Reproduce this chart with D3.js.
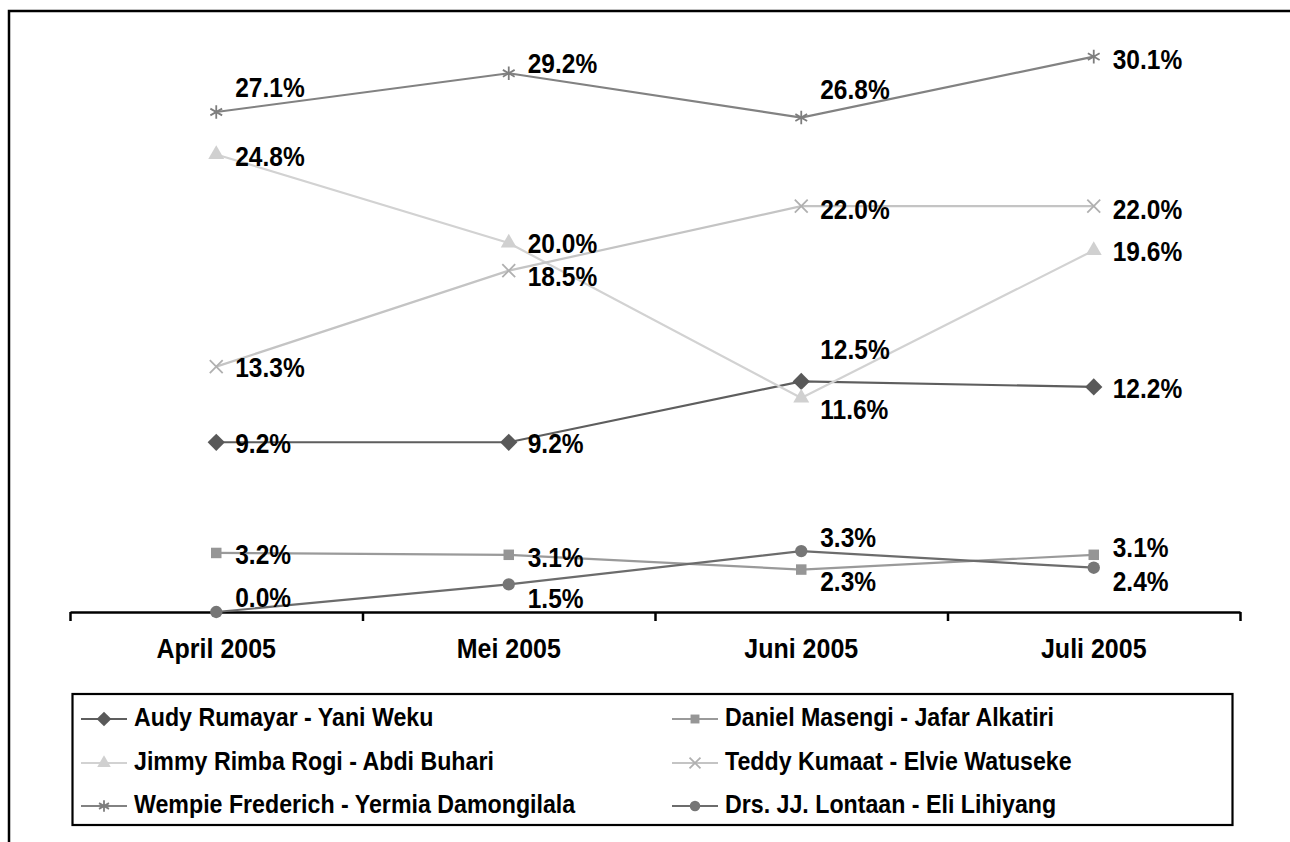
<!DOCTYPE html>
<html>
<head>
<meta charset="utf-8">
<script src="https://cdn.jsdelivr.net/npm/d3@7"></script>
<style>
  html, body { margin: 0; padding: 0; background: #fff; }
  svg { display: block; font-family: "Liberation Sans", Arial, sans-serif; }
</style>
</head>
<body>
<svg id="chart" width="1290" height="842"></svg>
<script>
// ---- data ----
const categories = ["April 2005", "Mei 2005", "Juni 2005", "Juli 2005"];
const seriesNames = [
  "Audy Rumayar - Yani Weku",
  "Daniel Masengi - Jafar Alkatiri",
  "Jimmy Rimba Rogi - Abdi Buhari",
  "Teddy Kumaat - Elvie Watuseke",
  "Wempie Frederich - Yermia Damongilala",
  "Drs. JJ. Lontaan - Eli Lihiyang"
];
const audy   = [9.2, 9.2, 12.5, 12.2];
const daniel = [3.2, 3.1, 2.3, 3.1];
const jimmy  = [24.8, 20.0, 11.6, 19.6];
const teddy  = [13.3, 18.5, 22.0, 22.0];
const wempie = [27.1, 29.2, 26.8, 30.1];
const lontaan = [0.0, 1.5, 3.3, 2.4];
const seriesValues = [audy, daniel, jimmy, teddy, wempie, lontaan];

// ---- style / layout ----
const lineColors   = ["#5e5e5e", "#9a9a9a", "#d2d2d2", "#c4c4c4", "#828282", "#6c6c6c"];
const markerColors = ["#595959", "#969696", "#d0d0d0", "#b0b0b0", "#7e7e7e", "#767676"];
const markerTypes  = ["diamond", "square", "triangle", "x", "asterisk", "circle"];
// vertical offsets of value labels (text centre relative to the point), px
const labelDy = [
  [1, 1, -32, 1],
  [1, 2, 12, -8],
  [2, 0, 11, 1],
  [1, 6, 3, 3],
  [-25, -10, -28, 3],
  [-15, 14, -14, 14]
];
const textStretch = 1.1; // glyphs in the reference are slightly taller than wide

const svg = d3.select("#chart");

// outer frame (open to the right/bottom, as cropped)
svg.append("path")
  .attr("d", "M9,842 L9,11 L1290,11")
  .attr("fill", "none").attr("stroke", "#000").attr("stroke-width", 2.5);

const x0 = 70, x1 = 1240, yBase = 612;
const x = d3.scaleBand().domain(categories).range([x0, x1]).paddingInner(0).paddingOuter(0);
const cx = c => x(c) + x.bandwidth() / 2;
const y = d3.scaleLinear().domain([0, 30]).range([yBase, yBase - 30 * 18.45]);

// axis ticks at category boundaries
const xb = d3.scaleLinear().domain([0, categories.length]).range([x0, x1]);
svg.append("g")
  .attr("transform", `translate(0,${yBase})`)
  .call(d3.axisBottom(xb).ticks(categories.length).tickFormat("").tickSizeInner(9).tickSizeOuter(0))
  .call(g => g.selectAll("path.domain").attr("stroke", "#000").attr("stroke-width", 2.5))
  .call(g => g.selectAll(".tick line").attr("stroke", "#000").attr("stroke-width", 2.5));

// category labels
svg.append("g")
  .attr("transform", `translate(0,${yBase})`)
  .call(d3.axisBottom(x).tickSize(0).tickPadding(0))
  .call(g => g.select("path.domain").remove())
  .call(g => g.selectAll("text")
    .attr("y", 0).attr("dy", "0")
    .attr("transform", `translate(0,46) scale(1,${textStretch})`)
    .attr("fill", "#000")
    .style("font-family", '"Liberation Sans", Arial, sans-serif')
    .style("font-size", "25px").style("font-weight", "bold"));

function markerPath(type) {
  switch (type) {
    case "diamond": return d3.symbol(d3.symbolDiamond2, 190)();
    case "square": return d3.symbol(d3.symbolSquare, 110)();
    case "triangle": return d3.symbol(d3.symbolTriangle, 110)();
    case "x": return d3.symbol(d3.symbolX, 110)();
    case "asterisk": return d3.symbol(d3.symbolAsterisk, 130)();
    case "circle": return d3.symbol(d3.symbolCircle, 120)();
  }
}
const strokeMarker = t => t === "x" || t === "asterisk";

function drawMarker(g, type, color, k) {
  const p = g.append("path").attr("d", markerPath(type)).attr("transform", `scale(${k || 1})`);
  if (strokeMarker(type)) p.attr("fill", "none").attr("stroke", color).attr("stroke-width", 1.8 / (k || 1));
  else p.attr("fill", color).attr("stroke", "none");
}

const line = d3.line().x((d, i) => cx(categories[i])).y(d => y(d));

const plot = svg.append("g");
seriesValues.forEach((vals, s) => {
  const g = plot.append("g");
  g.append("path").attr("d", line(vals))
    .attr("fill", "none").attr("stroke", lineColors[s]).attr("stroke-width", 2.2);
  vals.forEach((v, i) => {
    const m = g.append("g").attr("transform", `translate(${cx(categories[i])},${y(v)})`);
    drawMarker(m, markerTypes[s], markerColors[s]);
  });
});

// value labels
const labels = svg.append("g");
seriesValues.forEach((vals, s) => {
  vals.forEach((v, i) => {
    labels.append("text")
      .attr("transform", `translate(${cx(categories[i]) + 19},${y(v) + labelDy[s][i]}) scale(1,${textStretch})`)
      .attr("dy", "0.36em")
      .attr("fill", "#000")
      .style("font-size", "24.5px").style("font-weight", "bold")
      .text(d3.format(".1f")(v) + "%");
  });
});

// legend
const lg = svg.append("g");
lg.append("rect").attr("x", 72.5).attr("y", 694).attr("width", 1160).attr("height", 131)
  .attr("fill", "none").attr("stroke", "#000").attr("stroke-width", 2.2);
const colX = [81, 672];
const rowY = [719, 763, 806];
seriesNames.forEach((name, s) => {
  const cxi = colX[s % 2], ry = rowY[Math.floor(s / 2)];
  const it = lg.append("g").attr("transform", `translate(${cxi},${ry})`);
  it.append("line").attr("x1", 0).attr("x2", 46).attr("y1", 0).attr("y2", 0)
    .attr("stroke", lineColors[s]).attr("stroke-width", 2.2);
  const m = it.append("g").attr("transform", "translate(23,0)");
  drawMarker(m, markerTypes[s], markerColors[s], 0.85);
  it.append("text").attr("transform", `translate(53,-2) scale(1,${textStretch})`).attr("dy", "0.36em")
    .attr("fill", "#000")
    .style("font-size", "23.2px").style("font-weight", "bold")
    .text(name);
});
</script>
</body>
</html>
